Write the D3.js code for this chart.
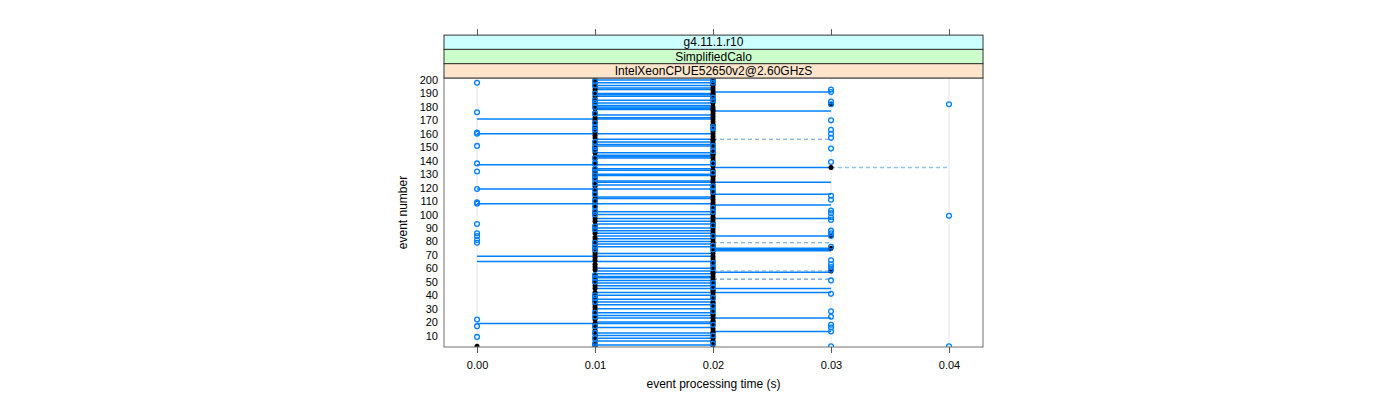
<!DOCTYPE html>
<html><head><meta charset="utf-8">
<script src="https://cdn.jsdelivr.net/npm/d3@7"></script>
<style>
body{margin:0;background:#fff}
svg{display:block}
text{font-family:"Liberation Sans",Arial,Helvetica,sans-serif;fill:#000}
</style>
</head><body>
<svg id="chart" width="1400" height="400"></svg>
<script>
// ---------- data ----------
const xTicks = [0, 0.01, 0.02, 0.03, 0.04];
const xTickLabels = ["0.00", "0.01", "0.02", "0.03", "0.04"];
const yTicks = [10,20,30,40,50,60,70,80,90,100,110,120,130,140,150,160,170,180,190,200];
const stripLabels = ["g4.11.1.r10", "SimplifiedCalo", "IntelXeonCPUE52650v2@2.60GHzS"];
const xTitle = "event processing time (s)";
const yTitle = "event number";

// blue open circles: event numbers measured at each time value
const blueAt000 = [198, 176, 161, 160, 151, 138, 132, 119, 109, 108, 93, 86, 84, 81, 79, 22, 17, 9];
const blueAt001 = [199, 196, 190, 185, 183, 180, 175, 168, 165, 163, 154, 150, 148, 142, 138, 134, 132, 129, 127, 123, 118, 115, 110, 106, 102,
                   100, 91, 89, 79, 76, 74, 55, 53, 50, 40, 38, 35, 27, 24, 17, 12, 8, 4, 2];
const blueAt002 = [200, 198, 187, 185, 165, 164, 151, 147, 138, 131, 121, 117, 105, 102, 92, 84, 77, 74, 64, 60, 49, 46, 38, 32, 28, 18, 10, 4];
const blueAt003 = [193, 191, 184, 182, 170, 163, 160, 157, 149, 139, 114, 111, 103, 101, 98, 96, 88, 86, 84, 76, 66, 63, 61, 59, 51, 41, 28, 24, 18, 16, 13, 2];
const blueAt004 = [182, 99, 2];

// black filled points: time (ms) per event 1..200
const blackMs = [
  10, 0,20,10,20,20,10,20,10,20,
  10,20,20,10,20,10,10,20,10,20,
  20,10,20,10,20,20,10,20,10,20,
  10,20,10,20,20,10,20,10,20,10,
  20,10,20,20,10,20,10,20,10,20,
  10,20,10,20,10,20,20,30,10,20,
  10,20,10,20,20,10,20,10,20,10,
  20,10,20,10,30,20,10,20,10,20,
  10,20,10,30,20,10,20,10,20,10,
  20,10,20,20,10,20,10,20,10,20,
  10,20,10,20,10,20,20,10,20,10,
  20,10,20,10,20,10,20,20,10,20,
  10,20,10,20,10,20,10,20,20,10,
  20,10,20,10,30,20,10,20,10,20,
  10,20,10,20,20,10,20,10,20,10,
  20,10,20,10,20,20,10,20,10,20,
  10,20,10,20,10,20,20,10,20,10,
  20,10,20,10,20,10,20,20,10,20,
  10,30,20,10,20,10,20,10,20,20,
  10,20,10,20,10,20,20,10,20,10
];

// horizontal ranges per event
const segFrom000To002 = [171, 160, 137, 119, 108, 69, 65, 19];
const segFrom001To002 = [200, 198, 196, 194, 193, 190, 189, 188, 185, 183, 181, 180, 179, 178, 174, 172, 156, 154, 152, 151,
                         146, 144, 143, 142, 134, 133, 130, 129, 125, 124, 122, 113, 112, 102, 100, 97, 95, 93, 90, 88, 86, 84, 82,
                         80, 78, 76, 71, 60, 58, 56, 54, 53, 51, 49, 47, 45, 42, 40, 37, 35, 33, 30, 27, 25, 23, 20, 16, 12, 10, 8, 6, 3];
const segFrom002To003 = [191, 177, 135, 124, 115, 107, 97, 84, 75, 74, 73, 57, 45, 42, 23, 13];
const dashFrom002To003 = [156, 79, 58, 52];
const dashFrom003To004 = [135];

// ---------- layout ----------
const svg = d3.select("#chart");
const P = {left: 444, right: 983, top: 78, bottom: 347};
const stripH = 14.3;
const stripFill = ["#ccffff", "#ccffcc", "#ffe5cc"];
const blue = "#0080ff";

const x = d3.scaleLinear().domain([-0.0028, 0.04288]).range([P.left, P.right]);
const y = d3.scaleLinear().domain([1.5, 201.5]).range([P.bottom, P.top]);

svg.append("defs").append("clipPath").attr("id", "clip")
  .append("rect").attr("x", P.left).attr("y", P.top).attr("width", P.right - P.left).attr("height", P.bottom - P.top);

// grid
svg.append("g").selectAll("line").data(xTicks).join("line")
  .attr("x1", d => x(d)).attr("x2", d => x(d))
  .attr("y1", P.top).attr("y2", P.bottom)
  .attr("stroke", "#e6e6e6").attr("stroke-width", 1);

const plot = svg.append("g").attr("clip-path", "url(#clip)");

function segs(events, t0, t1, color, dash, width) {
  plot.append("g").selectAll("line").data(events).join("line")
    .attr("x1", x(t0)).attr("x2", x(t1))
    .attr("y1", d => y(d)).attr("y2", d => y(d))
    .attr("stroke", color).attr("stroke-width", width)
    .attr("stroke-dasharray", dash);
}
segs(segFrom001To002, 0.01, 0.02, blue, null, 1.5);
segs(segFrom000To002, 0.00, 0.02, blue, null, 1.5);
segs(segFrom002To003, 0.02, 0.03, blue, null, 1.5);
segs(dashFrom002To003, 0.02, 0.03, "#5f9ad8", "4,3", 1.1);
segs(dashFrom003To004, 0.03, 0.04, "#8fc2f5", "4,3", 1.4);

// black points
plot.append("g").selectAll("circle").data(blackMs).join("circle")
  .attr("cx", d => x(d / 1000)).attr("cy", (d, i) => y(i + 1))
  .attr("r", 2.5).attr("fill", "#000");

// blue open circles
const bluePts = [
  ...blueAt000.map(e => [0.00, e]),
  ...blueAt001.map(e => [0.01, e]),
  ...blueAt002.map(e => [0.02, e]),
  ...blueAt003.map(e => [0.03, e]),
  ...blueAt004.map(e => [0.04, e])
];
plot.append("g").selectAll("circle").data(bluePts).join("circle")
  .attr("cx", d => x(d[0])).attr("cy", d => y(d[1]))
  .attr("r", 2.4).attr("fill", "none").attr("stroke", blue).attr("stroke-width", 1.3);

// panel border
svg.append("rect").attr("x", P.left).attr("y", P.top)
  .attr("width", P.right - P.left).attr("height", P.bottom - P.top)
  .attr("fill", "none").attr("stroke", "#707070").attr("stroke-width", 1);

// strips (top to bottom)
stripLabels.forEach((lab, i) => {
  const y0 = P.top - stripH * (3 - i);
  svg.append("rect").attr("x", P.left).attr("y", y0).attr("width", P.right - P.left).attr("height", stripH)
    .attr("fill", stripFill[i]).attr("stroke", "#333").attr("stroke-width", 1);
  svg.append("text").attr("x", (P.left + P.right) / 2).attr("y", y0 + stripH / 2 + 4.2)
    .attr("text-anchor", "middle").attr("font-size", 12).text(lab);
});

// x axis bottom
const xAxisB = svg.append("g").attr("transform", `translate(0,${P.bottom})`)
  .call(d3.axisBottom(x).tickValues(xTicks).tickFormat((d, i) => xTickLabels[i]).tickSize(6).tickPadding(8));
xAxisB.select(".domain").remove();
xAxisB.selectAll("line").attr("stroke", "#555");
xAxisB.selectAll("text").attr("font-size", 11).attr("font-family", "Liberation Sans, Arial, sans-serif");

// x axis top ticks (no labels)
const topY = P.top - stripH * 3;
const xAxisT = svg.append("g").attr("transform", `translate(0,${topY})`)
  .call(d3.axisTop(x).tickValues(xTicks).tickFormat("").tickSize(6));
xAxisT.select(".domain").remove();
xAxisT.selectAll("line").attr("stroke", "#555");

// y axis labels
const yAxis = svg.append("g").attr("transform", `translate(${P.left},0)`)
  .call(d3.axisLeft(y).tickValues(yTicks).tickSize(0).tickPadding(6));
yAxis.select(".domain").remove();
yAxis.selectAll("text").attr("font-size", 11).attr("font-family", "Liberation Sans, Arial, sans-serif");

// titles
svg.append("text").attr("x", (P.left + P.right) / 2).attr("y", 388)
  .attr("text-anchor", "middle").attr("font-size", 12).text(xTitle);
svg.append("text").attr("transform", `translate(407,${(P.top + P.bottom) / 2}) rotate(-90)`)
  .attr("text-anchor", "middle").attr("font-size", 12).text(yTitle);
</script>
</body></html>
